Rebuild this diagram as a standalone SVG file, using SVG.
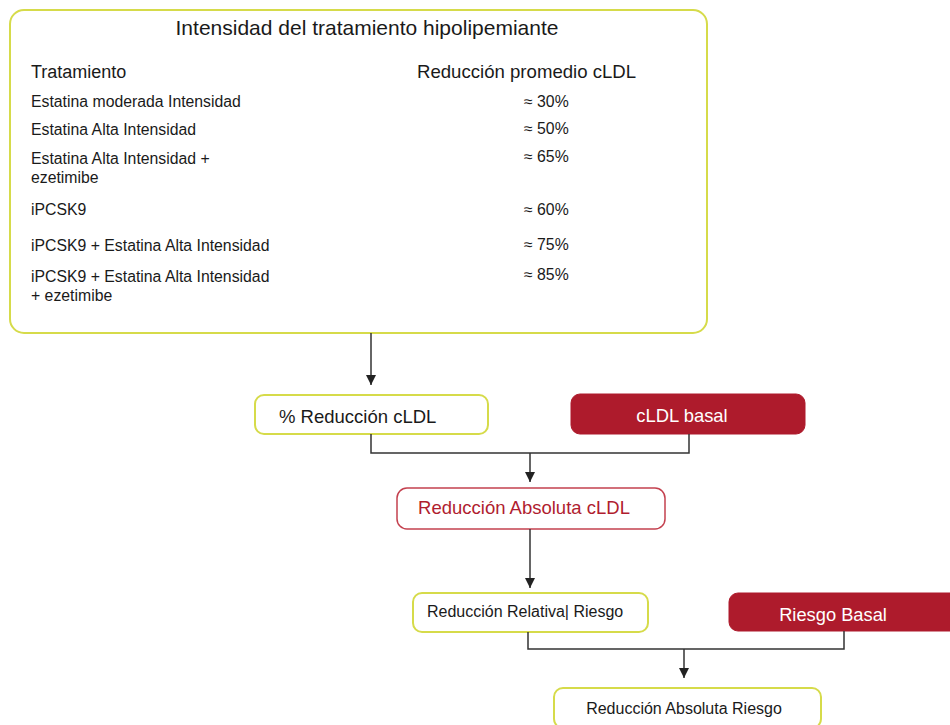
<svg xmlns="http://www.w3.org/2000/svg" width="950" height="725" viewBox="0 0 950 725">
<style>
text{font-family:"Liberation Sans",Arial,sans-serif;fill:#1a1a1a}
.yel{fill:#fff;stroke:#d6db4a;stroke-width:2}
.red{fill:#ae1b2c;stroke:#ae1b2c;stroke-width:1}
.redo{fill:#fff;stroke:#c4414f;stroke-width:1.5}
.row{font-size:15.8px}
.pct{font-size:15.8px}
.wt{fill:#fff}
.conn{fill:none;stroke:#333;stroke-width:1.5}
</style>
<defs>
<marker id="ah" markerUnits="userSpaceOnUse" markerWidth="10" markerHeight="12" refX="10" refY="5" orient="auto">
<path d="M0,0 L10,5 L0,10 z" fill="#222"/>
</marker>
</defs>
<rect width="950" height="725" fill="#fff"/>
<g id="tabla">
<rect class="yel" x="10" y="10" width="697" height="323" rx="14"/>
<text x="367" y="35" font-size="21" text-anchor="middle">Intensidad del tratamiento hipolipemiante</text>
<text x="31" y="78" font-size="18">Tratamiento</text>
<text x="417" y="78" font-size="18.6">Reducción promedio cLDL</text>
<text class="row" x="31" y="107">Estatina moderada Intensidad</text>
<text class="row" x="31" y="135">Estatina Alta Intensidad</text>
<text class="row" x="31" y="164">Estatina Alta Intensidad +</text>
<text class="row" x="31" y="183">ezetimibe</text>
<text class="row" x="31" y="215">iPCSK9</text>
<text class="row" x="31" y="251">iPCSK9 + Estatina Alta Intensidad</text>
<text class="row" x="31" y="282">iPCSK9 + Estatina Alta Intensidad</text>
<text class="row" x="31" y="301">+ ezetimibe</text>
<text class="pct" x="524" y="107">≈ 30%</text>
<text class="pct" x="524" y="134">≈ 50%</text>
<text class="pct" x="524" y="162">≈ 65%</text>
<text class="pct" x="524" y="215">≈ 60%</text>
<text class="pct" x="524" y="250">≈ 75%</text>
<text class="pct" x="524" y="280">≈ 85%</text>
</g>
<g id="reduccion-pct">
<rect class="yel" x="255" y="395" width="233" height="39" rx="9"/>
<text x="279" y="423" font-size="18.5">% Reducción cLDL</text>
</g>
<g id="cldl-basal">
<rect class="red" x="571" y="394" width="234" height="40" rx="9"/>
<text class="wt" x="682" y="422" font-size="18.4" text-anchor="middle">cLDL basal</text>
</g>
<g id="reduccion-abs-cldl">
<rect class="redo" x="397" y="488" width="268" height="41" rx="10"/>
<text x="524" y="514" font-size="18.5" text-anchor="middle" style="fill:#b01d2f">Reducción Absoluta cLDL</text>
</g>
<g id="reduccion-rel-riesgo">
<rect class="yel" x="413" y="593" width="235" height="39" rx="9"/>
<text x="427" y="617" font-size="16">Reducción Relativa| Riesgo</text>
</g>
<g id="riesgo-basal">
<rect class="red" x="729" y="593" width="240" height="38" rx="9"/>
<text class="wt" x="833" y="621" font-size="18.3" text-anchor="middle">Riesgo Basal</text>
</g>
<g id="reduccion-abs-riesgo">
<rect class="yel" x="554" y="688" width="267" height="40" rx="9"/>
<text x="684" y="714" font-size="16" text-anchor="middle">Reducción Absoluta Riesgo</text>
</g>
<g id="connectors">
<path class="conn" d="M371,333 V385" marker-end="url(#ah)"/>
<path class="conn" d="M371,434 V453 H689 V434"/>
<path class="conn" d="M530,453 V482" marker-end="url(#ah)"/>
<path class="conn" d="M530,529 V588" marker-end="url(#ah)"/>
<path class="conn" d="M528,632 V649 H844 V631"/>
<path class="conn" d="M684,649 V678" marker-end="url(#ah)"/>
</g>
</svg>
